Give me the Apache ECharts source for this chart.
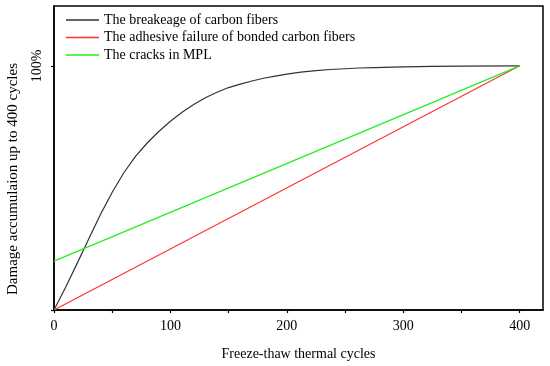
<!DOCTYPE html>
<html>
<head>
<meta charset="utf-8">
<script src="https://cdn.jsdelivr.net/npm/echarts@6/dist/echarts.min.js"></script>
<style>html,body{margin:0;padding:0;background:#fff;}#c{width:550px;height:366px;}</style>
</head>
<body>
<div id="c"></div>
<script>
const seriesNames = ['The breakeage of carbon fibers', 'The adhesive failure of bonded carbon fibers', 'The cracks in MPL'];
const fiberCycles = [0, 10, 20, 30, 40, 50, 60, 70, 80, 90, 100, 110, 120, 130, 140, 150, 160, 170, 180, 190, 200, 212, 225, 237, 250, 262, 275, 300, 325, 350, 400];
const fiberValues = [0, 0.093, 0.192, 0.293, 0.392, 0.482, 0.562, 0.629, 0.684, 0.731, 0.773, 0.810, 0.842, 0.869, 0.892, 0.911, 0.925, 0.938, 0.949, 0.958, 0.966, 0.974, 0.980, 0.985, 0.988, 0.991, 0.993, 0.996, 0.998, 0.999, 1.0];
const adhesiveCycles = [0, 400];
const adhesiveValues = [0, 1.0];
const cracksCycles = [0, 400];
const cracksValues = [0.2, 1.0];
const xTickValues = [0, 50, 100, 150, 200, 250, 300, 350, 400];
const xLabelValues = [0, 100, 200, 300, 400];
const yTickValues = [0, 1];
const yLabelValues = [1];

const pairs = (xs, ys) => xs.map((x, i) => [x, ys[i]]);
const font = 'Liberation Serif';
const chart = echarts.init(document.getElementById('c'));
chart.setOption({
  animation: false,
  backgroundColor: '#fff',
  textStyle: { fontFamily: font },
  grid: { left: 54, right: 7, top: 6, bottom: 51, show: true, borderColor: '#000', borderWidth: 1.5, backgroundColor: 'transparent' },
  legend: {
    orient: 'vertical', left: 61, top: 8, itemWidth: 33, itemHeight: 1.3, itemGap: 3.5,
    icon: 'rect',
    textStyle: { fontFamily: font, fontSize: 14, color: '#000', lineHeight: 14 },
    data: seriesNames
  },
  xAxis: {
    type: 'value', min: 0, max: 420,
    name: 'Freeze-thaw thermal cycles', nameLocation: 'middle', nameGap: 37,
    nameTextStyle: { fontFamily: font, fontSize: 14, color: '#000' },
    axisLine: { lineStyle: { color: '#000', width: 1.5 } },
    axisTick: { show: true, length: 3, customValues: xTickValues, lineStyle: { color: '#000', width: 1.2 } },
    axisLabel: { customValues: xLabelValues, margin: 9, fontFamily: font, fontSize: 14, color: '#000' },
    splitLine: { show: false }
  },
  yAxis: {
    type: 'value', min: 0, max: 1.245,
    axisLine: { show: true, lineStyle: { color: '#000', width: 1.5 } },
    axisTick: { show: true, length: 3, customValues: yTickValues, lineStyle: { color: '#000', width: 1.2 } },
    axisLabel: { customValues: yLabelValues, rotate: 90, margin: 10, fontFamily: font, fontSize: 14, color: '#000',
      formatter: v => Math.round(v * 100) + '%' },
    splitLine: { show: false }
  },
  graphic: [{
    type: 'text', x: 13, y: 179, rotation: Math.PI / 2,
    style: { text: 'Damage accumulaion up to 400 cycles', fontFamily: font, fontSize: 15, fill: '#000', align: 'center', verticalAlign: 'middle' }
  }],
  series: [
    { name: seriesNames[0], type: 'line', data: pairs(fiberCycles, fiberValues), smooth: false, symbol: 'none', color: '#333333', lineStyle: { width: 1.2, color: '#333333', join: 'round' } },
    { name: seriesNames[1], type: 'line', data: pairs(adhesiveCycles, adhesiveValues), symbol: 'none', color: '#ff3333', lineStyle: { width: 1.2, color: '#ff3333' } },
    { name: seriesNames[2], type: 'line', data: pairs(cracksCycles, cracksValues), symbol: 'none', color: '#22ee22', lineStyle: { width: 1.2, color: '#22ee22' } }
  ]
});
</script>
</body>
</html>
